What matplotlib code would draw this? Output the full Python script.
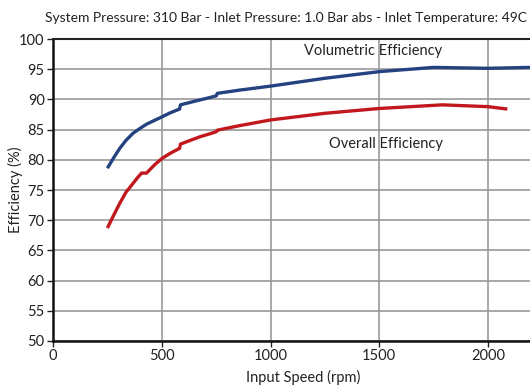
import matplotlib.pyplot as plt

plt.rcParams['font.family'] = ['Lato', 'DejaVu Sans']

# volumetric efficiency (blue)
speed_vol = [250, 280, 307, 335, 368, 400, 430, 465, 500, 540, 582, 586, 630,
             674, 720, 751, 755, 850, 1000, 1250, 1500, 1750, 2000, 2193]
vol_eff = [78.6, 80.4, 81.9, 83.2, 84.4, 85.2, 85.9, 86.5, 87.1, 87.8, 88.4,
           89.1, 89.5, 89.9, 90.3, 90.6, 91.0, 91.5, 92.2, 93.5, 94.6, 95.3,
           95.15, 95.3]

# overall efficiency (red)
speed_all = [250, 280, 307, 335, 368, 390, 407, 430, 465, 500, 540, 582, 586,
             630, 674, 720, 751, 755, 850, 1000, 1250, 1500, 1790, 2000, 2089]
all_eff = [68.7, 70.9, 72.8, 74.6, 76.1, 77.1, 77.8, 77.8, 79.1, 80.2, 81.1,
           81.9, 82.6, 83.2, 83.8, 84.3, 84.65, 84.9, 85.6, 86.6, 87.7, 88.5,
           89.1, 88.8, 88.4]

xticks = [0, 500, 1000, 1500, 2000]
yticks = [50, 55, 60, 65, 70, 75, 80, 85, 90, 95, 100]

fig = plt.figure(figsize=(5.3, 3.89), dpi=100)
ax = fig.add_axes([0.1, 0.1234, 0.9, 0.7763])

ax.plot(speed_vol, vol_eff, color='#24427f', lw=2.4, solid_capstyle='butt')
ax.plot(speed_all, all_eff, color='#c1181e', lw=2.4, solid_capstyle='butt')

ax.set_xlim(0, 2193)
ax.set_ylim(50, 100)
ax.set_xticks(xticks)
ax.set_yticks(yticks)
ax.grid(True, color='#9a9a9a', lw=1.2)
ax.set_axisbelow(True)

for s in ['left', 'bottom']:
    ax.spines[s].set_linewidth(1.8)
    ax.spines[s].set_color('#111111')
ax.spines['top'].set_linewidth(1.5)
ax.spines['top'].set_color('#222222')
ax.spines['right'].set_visible(False)

ax.tick_params(axis='both', direction='out', length=4, width=1, labelsize=10.5,
               colors='#222222', pad=2)

ax.set_xlabel('Input Speed (rpm)', fontsize=10.5, color='#222222')
ax.set_ylabel('Efficiency (%)', fontsize=10.5, color='#222222')
ax.xaxis.set_label_coords(250 / 477, -29 / 302)
ax.yaxis.set_label_coords(-30 / 477, 0.5)

ax.text(1471, 98.0, 'Volumetric Efficiency', ha='center', va='center',
        fontsize=10.5, color='#222222')
ax.text(1531, 82.6, 'Overall Efficiency', ha='center', va='center',
        fontsize=10.5, color='#222222')

fig.text(45 / 530, 1 - 18 / 389,
         'System Pressure: 310 Bar - Inlet Pressure: 1.0 Bar abs - Inlet Temperature: 49C',
         ha='left', va='center', fontsize=10.0, color='#222222')

fig.savefig('out.png', dpi=100)
